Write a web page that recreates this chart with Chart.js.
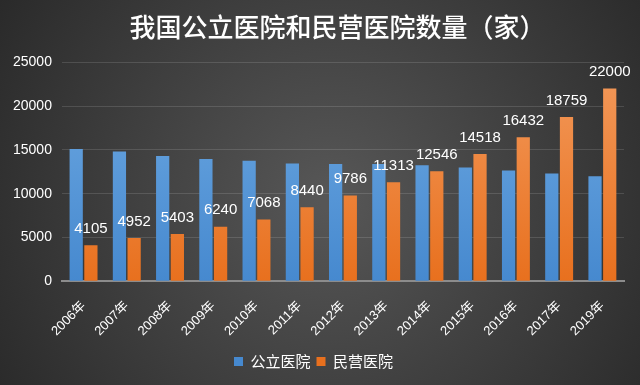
<!DOCTYPE html>
<html>
<head>
<meta charset="utf-8">
<script src="https://cdn.jsdelivr.net/npm/chart.js@4/dist/chart.umd.min.js"></script>
<style>
  body { margin: 0; background: #3a3a3a; }
  canvas { display: block; }
</style>
</head>
<body>
<canvas id="myChart" width="640" height="385"></canvas>
<script>
// data
var years = ['2006年', '2007年', '2008年', '2009年', '2010年', '2011年', '2012年', '2013年', '2014年', '2015年', '2016年', '2017年', '2019年'];
var publicHosp = [15100, 14800, 14300, 13950, 13750, 13450, 13400, 13400, 13250, 13000, 12650, 12300, 12000];
var privateHosp = [4105, 4952, 5403, 6240, 7068, 8440, 9786, 11313, 12546, 14518, 16432, 18759, 22000];
var yTicks = [0, 5000, 10000, 15000, 20000, 25000];

var FONT = '"Liberation Sans", "Noto Sans CJK SC", sans-serif';

// dark radial background
var bgPlugin = {
  id: 'bg',
  beforeDraw: function(chart) {
    var c = chart.ctx;
    var g = c.createRadialGradient(330, 200, 10, 330, 200, 420);
    g.addColorStop(0, '#565656');
    g.addColorStop(1, '#262626');
    c.save();
    c.fillStyle = g;
    c.fillRect(0, 0, chart.width, chart.height);
    c.restore();
  },
  // nudge the title a bit to the right, like the original
  afterLayout: function(chart) {
    if (chart.titleBlock) {
      chart.titleBlock.left += 24;
      chart.titleBlock.right += 24;
    }
  }
};

// value labels over the orange bars
var labelPlugin = {
  id: 'labels',
  afterDatasetsDraw: function(chart) {
    var c = chart.ctx;
    var meta = chart.getDatasetMeta(1);
    c.save();
    c.font = '15px ' + FONT;
    c.fillStyle = '#ffffff';
    c.textAlign = 'center';
    c.textBaseline = 'bottom';
    meta.data.forEach(function(bar, i) {
      c.fillText(privateHosp[i], bar.x, bar.y - 9);
    });
    c.restore();
  }
};

function barGradient(top, bottom) {
  return function(context) {
    var area = context.chart.chartArea;
    if (!area) return bottom;
    var g = context.chart.ctx.createLinearGradient(0, area.top, 0, area.bottom);
    g.addColorStop(0, top);
    g.addColorStop(1, bottom);
    return g;
  };
}

var ctx = document.getElementById('myChart').getContext('2d');

var chart = new Chart(ctx, {
  type: 'bar',
  data: {
    labels: years,
    datasets: [{
      label: '公立医院',
      data: publicHosp,
      backgroundColor: barGradient('#6ea9e2', '#4689cf'),
      borderWidth: 0
    },
    {
      label: '民营医院',
      data: privateHosp,
      backgroundColor: barGradient('#f39a5c', '#e8701e'),
      borderWidth: 0
    }]
  },
  options: {
    responsive: false,
    animation: false,
    layout: { padding: { left: 3, right: 16, top: 0, bottom: 6 } },
    plugins: {
      title: {
        display: true,
        text: '我国公立医院和民营医院数量（家）',
        color: '#ffffff',
        font: { family: '"Noto Sans CJK SC", sans-serif', size: 26, weight: '500' },
        padding: { top: 12, bottom: 19 }
      },
      legend: {
        position: 'bottom',
        labels: {
          color: '#ffffff',
          boxWidth: 9,
          boxHeight: 9,
          padding: 6,
          font: { family: '"Noto Sans CJK SC", sans-serif', size: 15 }
        }
      },
      tooltip: { enabled: false }
    },
    datasets: {
      bar: { categoryPercentage: 0.68, barPercentage: 0.9 }
    },
    scales: {
      x: {
        grid: { display: false },
        border: { color: '#8c8c8c', width: 2 },
        afterFit: function(axis) {
          // rotated labels may hang under the y axis labels
          axis.paddingLeft = 0;
          axis.paddingRight = 0;
        },
        ticks: {
          color: '#ffffff',
          minRotation: 45,
          maxRotation: 45,
          padding: 9,
          font: { family: FONT, size: 13 }
        }
      },
      y: {
        min: 0,
        max: 25000,
        afterBuildTicks: function(axis) {
          axis.ticks = yTicks.map(function(v) { return { value: v }; });
        },
        grid: { color: 'rgba(255,255,255,0.13)', drawTicks: false },
        border: { display: false },
        ticks: {
          color: '#ffffff',
          padding: 10,
          font: { family: FONT, size: 14 },
          callback: function(v) { return String(v); }
        }
      }
    }
  },
  plugins: [bgPlugin, labelPlugin]
});
</script>
</body>
</html>
